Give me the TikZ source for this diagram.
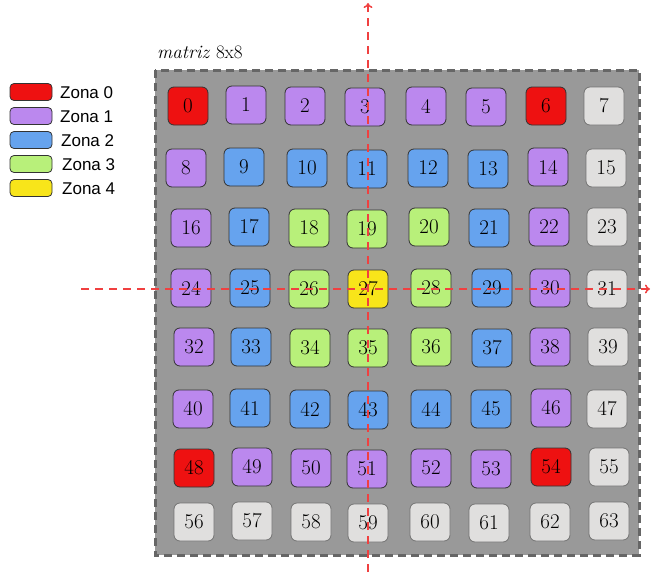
\documentclass[tikz,border=0pt]{standalone}
\usepackage{fontspec}
\newfontfamily\legendfont{Liberation Sans}
\usetikzlibrary{arrows.meta}
\definecolor{zonered}{HTML}{EE1111}
\definecolor{zonepurple}{HTML}{BB88EE}
\definecolor{zoneblue}{HTML}{66A3EE}
\definecolor{zonegreen}{HTML}{B8F07A}
\definecolor{zoneyellow}{HTML}{F8E51A}
\definecolor{zonegray}{HTML}{E0DFDE}
\definecolor{framegray}{HTML}{999999}
\definecolor{axisred}{HTML}{F04040}

\begin{document}
\begin{tikzpicture}[x=1pt,y=-1pt]
\tikzset{
  cell/.style={rectangle,rounded corners=6pt,draw=black!80,line width=0.8pt,minimum width=40pt,minimum height=38pt,inner sep=0pt,font=\fontsize{21}{21}\selectfont},
  z0/.style={cell,fill=zonered},
  z1/.style={cell,fill=zonepurple},
  z2/.style={cell,fill=zoneblue},
  z3/.style={cell,fill=zonegreen},
  z4/.style={cell,fill=zoneyellow},
  zn/.style={cell,fill=zonegray,draw=black!55},
  legendbox/.style={rectangle,rounded corners=4pt,draw=black!80,line width=0.8pt,minimum width=42pt,minimum height=17pt,inner sep=0pt},
  legendtext/.style={anchor=west,inner sep=0pt,font=\legendfont\fontsize{17}{17}\selectfont},
  axisline/.style={draw=axisred,line width=1.5pt,dash pattern=on 8pt off 6pt},
  axistip/.style={-{To[length=5pt,width=9pt]}},
  axistipback/.style={{To[length=5pt,width=9pt]}-}
}
\useasboundingbox (0,0) rectangle (651,576);
% frame
\draw[fill=framegray,draw=black!60,line width=3pt,dash pattern=on 8pt off 5pt] (155,70) rectangle (639,555);
\node[anchor=south west,inner sep=0pt,font=\fontsize{19}{19}\selectfont] (title) at (157,59) {\textit{matriz} 8x8};
% legend
\node[legendbox,fill=zonered] (l0) at (31,92) {};
\node[legendbox,fill=zonepurple] (l1) at (31,116) {};
\node[legendbox,fill=zoneblue] (l2) at (31,140) {};
\node[legendbox,fill=zonegreen] (l3) at (31,164) {};
\node[legendbox,fill=zoneyellow] (l4) at (31,188) {};
\node[legendtext] (t0) at (60,93) {Zona 0};
\node[legendtext] (t1) at (60,117) {Zona 1};
\node[legendtext] (t2) at (61,141) {Zona 2};
\node[legendtext] (t3) at (62,165) {Zona 3};
\node[legendtext] (t4) at (62,189) {Zona 4};
% row 0
\node[z0] (c0) at (188,106) {0};
\node[z1] (c1) at (246,105) {1};
\node[z1] (c2) at (305,106) {2};
\node[z1] (c3) at (365,107) {3};
\node[z1] (c4) at (426,106) {4};
\node[z1] (c5) at (486,107) {5};
\node[z0] (c6) at (546,106) {6};
\node[zn] (c7) at (604,106) {7};
% row 1
\node[z1] (c8) at (186,168) {8};
\node[z2] (c9) at (244,167) {9};
\node[z2] (c10) at (307,168) {10};
\node[z2] (c11) at (367,169) {11};
\node[z2] (c12) at (428,168) {12};
\node[z2] (c13) at (488,169) {13};
\node[z1] (c14) at (548,167) {14};
\node[zn] (c15) at (606,168) {15};
% row 2
\node[z1] (c16) at (191,228) {16};
\node[z2] (c17) at (249,227) {17};
\node[z3] (c18) at (309,228) {18};
\node[z3] (c19) at (367,229) {19};
\node[z3] (c20) at (429,227) {20};
\node[z2] (c21) at (489,228) {21};
\node[z1] (c22) at (549,227) {22};
\node[zn] (c23) at (607,227) {23};
% row 3
\node[z1] (c24) at (191,288) {24};
\node[z2] (c25) at (250,288) {25};
\node[z3] (c26) at (309,289) {26};
\node[z4] (c27) at (368,289) {27};
\node[z3] (c28) at (431,288) {28};
\node[z2] (c29) at (492,288) {29};
\node[z1] (c30) at (550,288) {30};
\node[zn] (c31) at (607,289) {31};
% row 4
\node[z1] (c32) at (194,347) {32};
\node[z2] (c33) at (251,347) {33};
\node[z3] (c34) at (310,348) {34};
\node[z3] (c35) at (368,348) {35};
\node[z3] (c36) at (431,347) {36};
\node[z2] (c37) at (492,348) {37};
\node[z1] (c38) at (550,347) {38};
\node[zn] (c39) at (608,347) {39};
% row 5
\node[z1] (c40) at (193,409) {40};
\node[z2] (c41) at (250,408) {41};
\node[z2] (c42) at (310,409) {42};
\node[z2] (c43) at (368,410) {43};
\node[z2] (c44) at (431,409) {44};
\node[z2] (c45) at (491,409) {45};
\node[z1] (c46) at (551,408) {46};
\node[zn] (c47) at (607,409) {47};
% row 6
\node[z0] (c48) at (194,468) {48};
\node[z1] (c49) at (252,467) {49};
\node[z1] (c50) at (311,468) {50};
\node[z1] (c51) at (367,469) {51};
\node[z1] (c52) at (431,468) {52};
\node[z1] (c53) at (491,469) {53};
\node[z0] (c54) at (551,467) {54};
\node[zn] (c55) at (609,467) {55};
% row 7
\node[zn] (c56) at (194,522) {56};
\node[zn] (c57) at (252,521) {57};
\node[zn] (c58) at (311,522) {58};
\node[zn] (c59) at (368,523) {59};
\node[zn] (c60) at (430,522) {60};
\node[zn] (c61) at (489,523) {61};
\node[zn] (c62) at (550,522) {62};
\node[zn] (c63) at (609,521) {63};
% axes
\coordinate (ybot) at (368,572);
\coordinate (ytop) at (368,3);
\coordinate (xleft) at (78,289);
\coordinate (xright) at (650,289);
\draw[axisline,axistip] (ybot) -- (ytop);
\draw[axisline,axistipback] (xright) -- (xleft);
\end{tikzpicture}
\end{document}
